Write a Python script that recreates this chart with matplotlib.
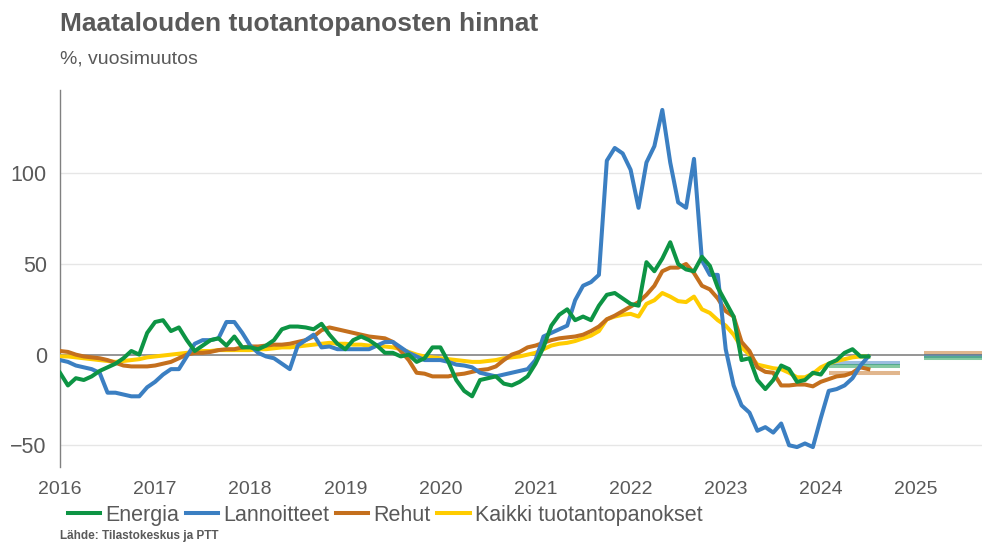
import numpy as np
import matplotlib
matplotlib.use("Agg")
import matplotlib.pyplot as plt

plt.rcParams['font.family'] = ['Liberation Sans', 'DejaVu Sans']

# monthly year-on-year change (%), Jan 2016 ->
alku = 2016
energia = [-10, -17, -13, -14, -12, -9, -7, -5, -2, 2,
           0, 12, 18, 19, 13, 15, 8, 2, 5, 8,
           9, 5, 10, 4, 4, 3, 5, 8, 14, 15.5,
           15.5, 15, 14, 17, 11, 6, 3, 8, 10, 8,
           5, 1, 1, -1, 0, -4, -2, 4, 4, -4,
           -14, -20, -23, -14, -13, -12, -16, -17, -15, -12,
           -5, 4, 16, 22, 25, 19, 21, 19, 27, 33,
           34, 31, 28, 27, 51, 46, 53, 62, 50, 47,
           46, 54, 49, 37, 29, 21, -3, -2, -14, -19,
           -14, -6, -8, -15, -14, -10, -11, -5, -3, 1,
           3, -1, -1]
lannoitteet = [-3, -4, -6, -7, -8, -10, -21, -21, -22, -23,
               -23, -18, -15, -11, -8, -8, -1, 6, 8, 8,
               9, 18, 18, 12, 5, 1, -1, -2, -5, -8,
               5, 8, 11, 4, 4.5, 3, 3, 3, 3, 3,
               5, 7, 7, 4, 1, -1, -3, -3, -3, -4,
               -5.5, -6, -7, -10, -11, -12, -11, -10, -9, -8,
               -3, 10, 12, 14, 16, 30, 38, 40, 44, 107,
               114, 111, 102, 81, 106, 115, 135, 106, 84, 81,
               108, 52, 44, 44, 3, -17, -28, -32, -42, -40,
               -43, -38, -50, -51, -49, -51, -35, -20, -19, -17,
               -13, -6, -1]
rehut = [2, 1.5, 0, -1, -1.5, -2, -3, -4.5, -6, -6.5,
         -6.5, -6.5, -6, -5, -4, -2, 0, 1, 1, 1.5,
         2.5, 3, 3, 4, 4.5, 4.5, 5, 5.5, 5.5, 6,
         7, 8, 10, 13.5, 15, 14, 13, 12, 11, 10,
         9.5, 9, 7, 2, -3, -10, -10.5, -12, -12, -12,
         -11, -10.5, -9.5, -8.5, -8, -6.5, -3, 0, 1.5, 4,
         5, 6.5, 8, 9, 9.5, 10, 11, 13, 15.5, 19.5,
         21.5, 24, 26.5, 29, 33, 38, 46, 48, 48, 50,
         45, 38, 36, 31, 24, 21, 7, 2, -7, -9.5,
         -10, -17, -17, -16.5, -16.5, -17.5, -15, -13.5, -12, -11.5,
         -10, -7, -8]
kaikki = [-1, -1, -1.5, -2, -2.5, -3, -3.5, -4, -3.5, -3,
          -2.5, -1.5, -1, -0.5, 0, 0.5, 1, 1.5, 2, 2,
          2.5, 2.5, 2.5, 2.5, 2.5, 3, 3, 3.5, 4, 4,
          4.5, 5, 5.5, 6, 6.5, 6, 6, 5.5, 5.5, 5,
          5, 4.5, 4, 3, 1.5, 0, -1, -1.5, -2, -2.5,
          -3, -3.5, -4, -4, -3.5, -3, -2, -1.5, -1, 0,
          1, 3, 5, 6, 6.5, 7.5, 9, 10.5, 13, 19.5,
          21, 22, 22.5, 21, 28, 30, 34, 32, 29.5, 29,
          32, 25, 23, 19, 16, 11, 4, 0, -5.5, -6.5,
          -7.5, -8, -10, -12.5, -12.5, -10.5, -7, -5, -3.5, -2.5,
          -1.5, -1, -1]

# forecasts (annual)
ennuste_vuodet = [2024, 2025]
energia_ennuste = [-6, -2]
lannoitteet_ennuste = [-4.5, -1]
rehut_ennuste = [-10, 1]

vuodet = list(range(2016, 2026))

vihrea = '#0d9444'
sininen = '#3b7fc2'
oranssi = '#c46f1d'
keltainen = '#ffcc00'
harmaa = '#595959'

x = alku + np.arange(len(energia)) / 12
xmax = 2025.695

fig = plt.figure(figsize=(9.82, 5.44), dpi=100)
ax = fig.add_axes([0.0611, 0.1415, 0.9389, 0.6931])

lw = 2.9
ax.plot(x, kaikki, color=keltainen, lw=lw, label='Kaikki tuotantopanokset', zorder=3)
ax.plot(x, rehut, color=oranssi, lw=lw, label='Rehut', zorder=4)
ax.plot(x, lannoitteet, color=sininen, lw=lw, label='Lannoitteet', zorder=5)
ax.plot(x, energia, color=vihrea, lw=lw, label='Energia', zorder=6)

for v, e, l, r in zip(ennuste_vuodet, energia_ennuste, lannoitteet_ennuste, rehut_ennuste):
    x0, x1 = v + 1 / 12, min(v + 10 / 12, xmax)
    ax.plot([x0, x1], [r, r], color=oranssi, lw=lw, alpha=0.5, solid_capstyle='butt', zorder=2)
    ax.plot([x0, x1], [l, l], color=sininen, lw=lw, alpha=0.5, solid_capstyle='butt', zorder=2)
    ax.plot([x0, x1], [e, e], color=vihrea, lw=lw, alpha=0.5, solid_capstyle='butt', zorder=2)

ax.set_xlim(alku, xmax)
ax.set_ylim(-62, 146)
ax.set_yticks([-50, 0, 50, 100])
ax.set_yticklabels(['\u221250', '0', '50', '100'])
ax.set_xticks(vuodet)
ax.set_xticklabels([str(v) for v in vuodet])
ax.tick_params(axis='both', length=0, colors=harmaa)
ax.tick_params(axis='x', pad=10, labelsize=14)
ax.tick_params(axis='y', pad=9.5, labelsize=15.5)

for g in [-50, 50, 100]:
    ax.axhline(g, color='#e6e6e6', lw=1, zorder=1)
ax.axhline(0, color='#8c8c8c', lw=1.3, zorder=1)

for s in ['top', 'right', 'bottom']:
    ax.spines[s].set_visible(False)
ax.spines['left'].set_color('#808080')
ax.spines['left'].set_linewidth(1)

fig.text(0.061, 0.956, 'Maatalouden tuotantopanosten hinnat', fontsize=19,
         fontweight='bold', color=harmaa, va='center')
fig.text(0.061, 0.892, '%, vuosimuutos', fontsize=14, color=harmaa, va='center')
fig.text(0.061, 0.004, 'Lähde: Tilastokeskus ja PTT', fontsize=8.5,
         fontweight='bold', color=harmaa, va='bottom')

h, lab = ax.get_legend_handles_labels()
order = [3, 2, 1, 0]
fig.legend([h[i] for i in order], [lab[i] for i in order], loc='center left',
           bbox_to_anchor=(0.069, 0.053), ncol=4, frameon=False, fontsize=15.5,
           handlelength=1.5, handletextpad=0.25, columnspacing=0.3,
           labelcolor=harmaa, borderaxespad=0, borderpad=0)

fig.savefig('out.png', dpi=100)
